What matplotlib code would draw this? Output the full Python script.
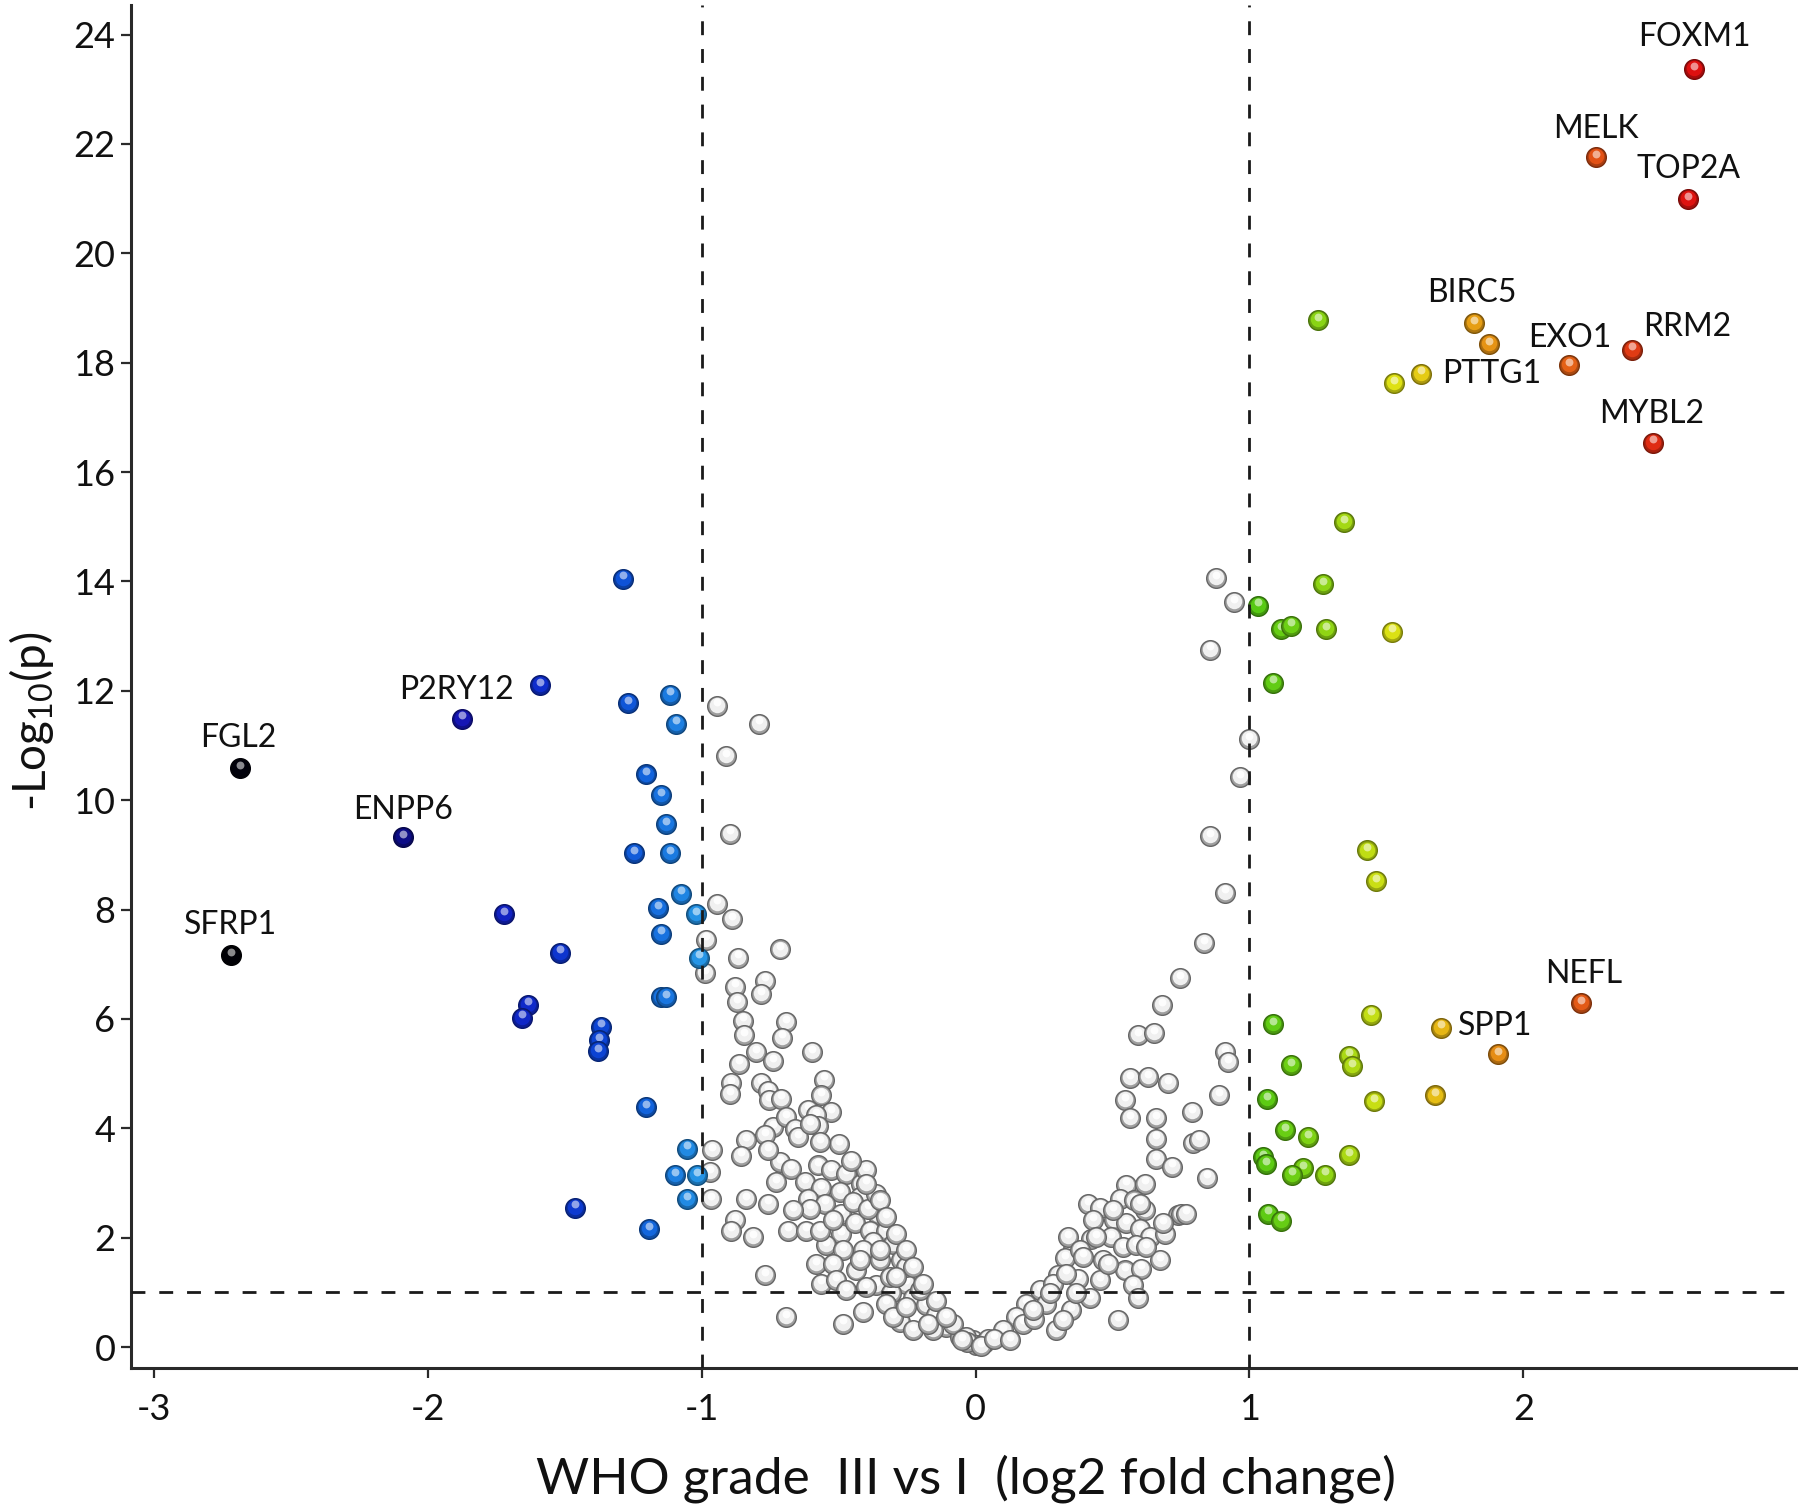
import numpy as np
import matplotlib
matplotlib.use("Agg")
import matplotlib.pyplot as plt
from matplotlib.colors import to_rgb
from matplotlib.transforms import offset_copy

plt.rcParams['font.family'] = ['Lato', 'DejaVu Sans']
plt.rcParams['mathtext.default'] = 'regular'
plt.rcParams['axes.unicode_minus'] = False

# ---------------- data ----------------
# non-significant genes (|log2FC| < 1)
gray_x = [-0.944, -0.791, -0.910, -0.898,
          -0.944, -0.889, -0.986, -0.715, -0.867, -0.989, -0.770, -0.880, -0.782, -0.871,
          -0.849, -0.693, -0.847, -0.706, -0.596, -0.803, -0.864, -0.740, -0.892, -0.898,
          -0.785, -0.758, -0.555, -0.563, -0.754, -0.709, -0.527, -0.612, -0.584, -0.740,
          -0.691, -0.661, -0.576, -0.770, -0.649, -0.837, -0.499, -0.961, -0.855, -0.971,
          -0.715, -0.673, -0.576, -0.527, -0.474, -0.730, -0.624, -0.563, -0.417, -0.496,
          -0.967, -0.837, -0.758, -0.612, -0.423, -0.551, -0.606, -0.490, -0.357, -0.880,
          -0.892, -0.813, -0.685, -0.618, -0.490, -0.545, -0.442, -0.387, -0.326, -0.375,
          -0.302, -0.484, -0.581, -0.521, -0.435, -0.350, -0.271, -0.770, -0.563, -0.362,
          -0.253, -0.308, -0.229, -0.180, -0.411, -0.277, -0.143, -0.693, -0.484, -0.107,
          -0.058, -0.229, -0.010, -0.156, -0.326, -0.399, -0.314, -0.411, -0.253, -0.204,
          -0.569, -0.521, -0.667, -0.448, -0.393, -0.362, -0.399, -0.454, -0.569, -0.606,
          -0.758, -0.350, -0.289, -0.174, -0.083, -0.423, -0.508, -0.472, -0.302, -0.253,
          -0.399, -0.350, -0.326, -0.289, -0.253, -0.229, -0.192, -0.143, -0.107, -0.034,
          0.000, 0.030, -0.030, 0.045, -0.050, 0.020,
          0.878, 0.945, 0.856, 0.999, 0.964, 0.856,
          0.912, 0.833, 0.748, 0.681, 0.592, 0.650, 0.912, 0.921, 0.562, 0.629,
          0.702, 0.888, 0.544, 0.562, 0.659, 0.789, 0.659, 0.793, 0.815, 0.659,
          0.718, 0.846, 0.550, 0.617, 0.412, 0.455, 0.526, 0.580, 0.617, 0.738,
          0.751, 0.428, 0.507, 0.550, 0.599, 0.635, 0.690, 0.422, 0.495, 0.538,
          0.586, 0.355, 0.325, 0.465, 0.544, 0.605, 0.672, 0.300, 0.373, 0.574,
          0.592, 0.416, 0.519, 0.349, 0.295, 0.234, 0.185, 0.149, 0.100, 0.173,
          0.069, 0.124, 0.258, 0.282, 0.368, 0.453, 0.483, 0.337, 0.380, 0.215,
          0.319, 0.623, 0.501, 0.599, 0.684, 0.769,
          0.209, 0.270, 0.331, 0.392, 0.440]
gray_y = [11.73, 11.40, 10.80, 9.39,
          8.11, 7.82, 7.45, 7.27, 7.12, 6.84, 6.70, 6.59, 6.45, 6.31,
          5.97, 5.94, 5.70, 5.66, 5.39, 5.39, 5.18, 5.23, 4.82, 4.63,
          4.82, 4.69, 4.89, 4.60, 4.51, 4.54, 4.30, 4.34, 4.24, 4.02,
          4.20, 3.99, 4.05, 3.87, 3.84, 3.78, 3.71, 3.60, 3.50, 3.20,
          3.38, 3.26, 3.32, 3.24, 3.17, 3.02, 3.02, 2.90, 2.99, 2.83,
          2.71, 2.71, 2.62, 2.71, 2.74, 2.62, 2.53, 2.44, 2.41, 2.32,
          2.13, 2.01, 2.13, 2.13, 2.07, 1.86, 2.26, 2.13, 2.13, 1.92,
          1.89, 1.77, 1.52, 1.52, 1.40, 1.59, 1.59, 1.31, 1.16, 1.13,
          1.16, 0.98, 0.89, 0.76, 0.64, 0.46, 0.58, 0.55, 0.43, 0.37,
          0.18, 0.31, 0.12, 0.31, 0.79, 1.10, 1.28, 1.77, 1.46, 1.04,
          2.13, 2.32, 2.50, 2.65, 2.53, 2.80, 3.23, 3.41, 3.75, 4.08,
          3.60, 1.77, 1.28, 0.43, 0.43, 1.59, 1.22, 1.04, 0.55, 0.73,
          2.99, 2.68, 2.38, 2.07, 1.77, 1.46, 1.16, 0.85, 0.55, 0.18,
          0.04, 0.07, 0.09, 0.15, 0.13, 0.02,
          14.06, 13.62, 12.75, 11.12, 10.42, 9.34,
          8.31, 7.39, 6.75, 6.25, 5.70, 5.74, 5.39, 5.21, 4.92, 4.94,
          4.83, 4.61, 4.51, 4.19, 4.19, 4.30, 3.81, 3.74, 3.79, 3.43,
          3.30, 3.10, 2.97, 2.99, 2.61, 2.55, 2.71, 2.68, 2.50, 2.41,
          2.44, 2.32, 2.32, 2.26, 2.16, 2.01, 2.07, 1.98, 2.01, 1.83,
          1.86, 1.80, 1.62, 1.59, 1.40, 1.43, 1.59, 1.31, 1.25, 1.13,
          0.89, 0.89, 0.49, 0.67, 0.31, 1.04, 0.79, 0.55, 0.31, 0.43,
          0.15, 0.12, 0.79, 1.16, 0.98, 1.22, 1.52, 2.01, 1.77, 0.52,
          0.49, 1.83, 2.50, 2.62, 2.26, 2.44,
          0.67, 0.98, 1.34, 1.65, 2.01]

# significant genes (|log2FC| >= 1)
sig_x = [-2.686, -2.720, -2.089, -1.874, -1.592, -1.289, -1.269, -1.117, -1.095, -1.204,
         -1.150, -1.129, -1.247, -1.117, -1.160, -1.077, -1.022, -1.150, -1.010, -1.723,
         -1.518, -1.636, -1.658, -1.147, -1.129, -1.366, -1.376, -1.378, -1.204, -1.052,
         -1.096, -1.019, -1.054, -1.464, -1.192,
         1.252, 1.345, 1.267, 1.030, 1.116, 1.150, 1.278, 1.520, 1.085, 1.430,
         1.463, 1.085, 1.442, 1.699, 1.908, 2.212, 1.150, 1.365, 1.376, 1.063,
         1.454, 1.676, 1.130, 1.214, 1.049, 1.061, 1.195, 1.155, 1.277, 1.365,
         1.067, 1.114,
         2.624, 2.265, 2.602, 1.821, 1.876, 2.168, 2.397, 1.627, 1.529, 2.472]
sig_y = [10.58, 7.16, 9.32, 11.49, 12.10, 14.05, 11.77, 11.93, 11.40, 10.47,
         10.09, 9.56, 9.03, 9.03, 8.03, 8.29, 7.92, 7.56, 7.12, 7.92,
         7.21, 6.26, 6.02, 6.40, 6.40, 5.86, 5.61, 5.41, 4.39, 3.63,
         3.14, 3.14, 2.71, 2.55, 2.16,
         18.78, 15.08, 13.95, 13.56, 13.13, 13.19, 13.13, 13.08, 12.15, 9.08,
         8.52, 5.91, 6.08, 5.84, 5.35, 6.29, 5.16, 5.33, 5.14, 4.53,
         4.49, 4.60, 3.97, 3.84, 3.47, 3.35, 3.27, 3.15, 3.15, 3.51,
         2.44, 2.31,
         23.37, 21.76, 20.99, 18.72, 18.34, 17.96, 18.24, 17.80, 17.63, 16.54]

gene_labels = ['FOXM1', 'MELK', 'TOP2A', 'BIRC5', 'EXO1', 'RRM2', 'PTTG1', 'MYBL2',
               'NEFL', 'SPP1', 'P2RY12', 'FGL2', 'ENPP6', 'SFRP1']
gene_x = [2.624, 2.265, 2.602, 1.821, 2.168, 2.397, 1.627, 2.472, 2.212, 1.699,
          -1.874, -2.686, -2.089, -2.720]
gene_y = [23.37, 21.76, 20.99, 18.72, 17.96, 18.24, 17.80, 16.54, 6.29, 5.84,
          11.49, 10.58, 9.32, 7.16]

x_ticks = [-3, -2, -1, 0, 1, 2]
y_ticks = [0, 2, 4, 6, 8, 10, 12, 14, 16, 18, 20, 22, 24]
fc_cut = 1.0
p_cut = 1.0

# ---------------- style ----------------
neg_ax = [-2.75, -2.45, -2.09, -1.87, -1.60, -1.35, -1.20, -1.00]
neg_col = ['#000000', '#05053a', '#0c0c86', '#1616b6', '#0e2ccc', '#0c46d4', '#1264dc', '#2698e6']
pos_ax = [1.00, 1.15, 1.30, 1.45, 1.55, 1.70, 1.90, 2.15, 2.40, 2.62]
pos_col = ['#52c814', '#6ccf14', '#96d614', '#c6de14', '#e4e214', '#e6b614', '#e68e14',
           '#e46416', '#e03a14', '#de1010']


def interp_color(v, ax_, cols):
    rgb = np.array([to_rgb(c) for c in cols])
    return tuple(np.interp(v, ax_, rgb[:, k]) for k in range(3))


def color_for(v):
    if v < 0:
        return interp_color(v, neg_ax, neg_col)
    return interp_color(v, pos_ax, pos_col)


def mix(c, t, target):
    c = np.array(c)
    return tuple(c * (1 - t) + np.array(target) * t)


fig = plt.figure(figsize=(18, 15.08), dpi=100)
ax = fig.add_axes([0.0726, 0.0926, 0.9254, 0.9044])

S = 200
layers_off = [0.0, 0.7, 2.4]


def sphere(x, y, base, z, gray=False):
    if gray:
        rim = (0.40, 0.40, 0.40)
        body = (0.62, 0.62, 0.62)
        mid = (0.94, 0.94, 0.94)
        hi = (1.0, 1.0, 1.0)
    else:
        rim = mix(base, 0.45, (0, 0, 0))
        body = mix(base, 0.25, (0, 0, 0))
        mid = base
        hi = mix(base, 0.6, (1, 1, 1))
    ax.scatter([x], [y], s=S, color=[body], edgecolors=[rim], linewidths=1.0, zorder=z)
    t1 = offset_copy(ax.transData, fig=fig, x=0, y=layers_off[1], units='points')
    ax.scatter([x], [y], s=S * 0.62, color=[mid], linewidths=0, zorder=z + 1e-5,
               transform=t1)
    t2 = offset_copy(ax.transData, fig=fig, x=0, y=layers_off[2], units='points')
    ax.scatter([x], [y], s=S * 0.16, color=[hi], linewidths=0, zorder=z + 2e-5,
               transform=t2, alpha=0.9)


z = 3.0
for gx, gy in zip(gray_x, gray_y):
    sphere(gx, gy, None, z, gray=True)
    z += 1e-4
for sx, sy in zip(sig_x, sig_y):
    sphere(sx, sy, color_for(sx), z)
    z += 1e-4

# threshold lines
dash = (0, (5, 5))
ax.axvline(-fc_cut, color='#1a1a1a', lw=2.0, ls=dash, zorder=10)
ax.axvline(fc_cut, color='#1a1a1a', lw=2.0, ls=dash, zorder=10)
ax.axhline(p_cut, color='#1a1a1a', lw=2.0, ls=dash, zorder=10)

# gene labels (offsets in points)
label_style = {
    'FOXM1': (0, 23, 'center'), 'MELK': (0, 20.5, 'center'), 'TOP2A': (0, 22, 'center'),
    'BIRC5': (-1.5, 21.5, 'center'), 'EXO1': (0, 19.5, 'center'), 'RRM2': (8, 16, 'left'),
    'PTTG1': (15, 0, 'left'), 'MYBL2': (-1, 20.5, 'center'), 'NEFL': (1.5, 21, 'center'),
    'SPP1': (12.5, 1.5, 'left'), 'P2RY12': (-4, 21, 'center'), 'FGL2': (-1, 22, 'center'),
    'ENPP6': (-0.5, 20, 'center'), 'SFRP1': (0, 22, 'center')}
for name, gx, gy in zip(gene_labels, gene_x, gene_y):
    dx, dy, ha = label_style[name]
    ax.annotate(name, (gx, gy), xytext=(dx, dy), textcoords='offset points',
                ha=ha, va='center', fontsize=23, color='#111111', zorder=20)

ax.set_xlim(-3.085, 2.997)
ax.set_ylim(-0.39, 24.55)
ax.set_xticks(x_ticks)
ax.set_yticks(y_ticks)
ax.set_xticklabels([str(t) for t in x_ticks])
ax.set_yticklabels([str(t) for t in y_ticks])
for side in ['top', 'right']:
    ax.spines[side].set_visible(False)
for side in ['left', 'bottom']:
    ax.spines[side].set_linewidth(2.2)
    ax.spines[side].set_color('#2a2a2a')
ax.tick_params(axis='both', length=7, width=1.6, color='#2a2a2a', labelsize=26,
               labelcolor='#111111')
ax.tick_params(axis='y', pad=4)
ax.tick_params(axis='x', pad=11)

fig.text(0.5367, 0.0195, 'WHO grade  III vs I  (log2 fold change)', ha='center',
         va='center', fontsize=37, color='#111111')
fig.text(0.0175, 0.522, '-Log$_{10}$(p)', ha='center', va='center', rotation=90,
         fontsize=33, color='#111111')

fig.savefig('out.png', dpi=100, facecolor='white')
